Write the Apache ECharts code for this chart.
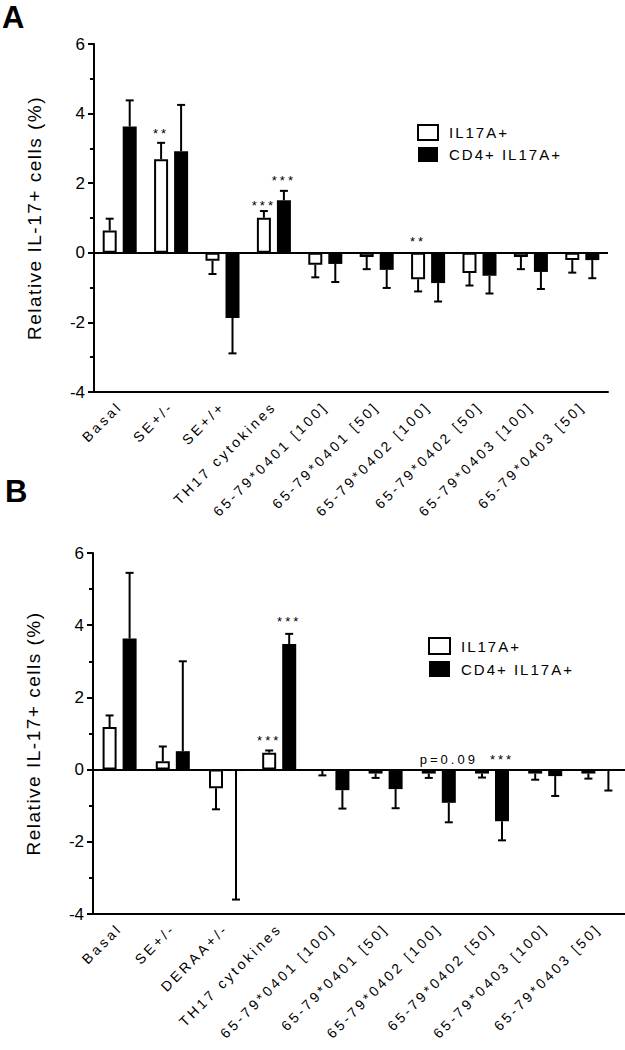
<!DOCTYPE html>
<html>
<head>
<meta charset="utf-8">
<script src="https://cdn.jsdelivr.net/npm/echarts@6/dist/echarts.min.js"></script>
<style>
  html, body { margin: 0; padding: 0; background: #fff; }
  #chart { width: 625px; height: 1050px; }
  #chart text[style*="13px"] { letter-spacing: 3px; }
  #chart text[style*="14px"] { letter-spacing: 3px; }
  #chart text[style*="15px"] { letter-spacing: 2px; }
  #chart text[style*="19px"] { letter-spacing: 1.5px; }
</style>
</head>
<body>
<div id="chart"></div>
<script>
// ---------- data ----------
const categoriesA = ['Basal', 'SE+/-', 'SE+/+', 'TH17 cytokines', '65-79*0401 [100]', '65-79*0401 [50]',
  '65-79*0402 [100]', '65-79*0402 [50]', '65-79*0403 [100]', '65-79*0403 [50]'];
const categoriesB = ['Basal', 'SE+/-', 'DERAA+/-', 'TH17 cytokines', '65-79*0401 [100]', '65-79*0401 [50]',
  '65-79*0402 [100]', '65-79*0402 [50]', '65-79*0403 [100]', '65-79*0403 [50]'];
const seriesNames = ['IL17A+', 'CD4+ IL17A+'];

const il17A_A = [0.64, 2.69, -0.23, 1.01, -0.345, -0.12, -0.76, -0.58, -0.12, -0.21];
const il17A_A_err = [0.34, 0.47, 0.38, 0.19, 0.36, 0.35, 0.35, 0.36, 0.35, 0.36];
const cd4_A = [3.63, 2.92, -1.87, 1.51, -0.32, -0.49, -0.87, -0.66, -0.55, -0.21];
const cd4_A_err = [0.75, 1.33, 1.02, 0.27, 0.52, 0.52, 0.53, 0.51, 0.49, 0.52];

const il17A_B = [1.18, 0.23, -0.52, 0.47, -0.02, -0.11, -0.11, -0.11, -0.11, -0.11];
const il17A_B_err = [0.32, 0.41, 0.58, 0.06, 0.14, 0.12, 0.12, 0.11, 0.17, 0.14];
const cd4_B = [3.63, 0.51, -0.04, 3.48, -0.57, -0.54, -0.92, -1.43, -0.18, -0.01];
const cd4_B_err = [1.82, 2.49, 3.56, 0.28, 0.51, 0.53, 0.54, 0.53, 0.55, 0.57];

// annotations: [category index, series index (0 = IL17A+, 1 = CD4+ IL17A+), y value, text]
const annotationsA = [[1, 0, 3.55, '**'], [3, 0, 1.46, '***'], [3, 1, 2.2, '***'], [6, 0, 0.44, '**']];
const annotationsB = [[3, 0, 0.93, '***'], [3, 1, 4.2, '***'], [6, 1, 0.4, 'p=0.09'], [7, 1, 0.4, '***']];

const yTicks = { min: -4, max: 6, interval: 2 };
const yTitle = 'Relative IL-17+ cells (%)';

// ---------- chart ----------
const FONT = '"Liberation Sans", Arial, sans-serif';
const BAR_OFFSET = 10; // half of (bar width + gap)

function errRender(offset) {
  return function (params, api) {
    const i = api.value(0), v = api.value(1), e = api.value(2);
    const sign = v >= 0 ? 1 : -1;
    const p0 = api.coord([i, v]);
    const p1 = api.coord([i, v + sign * e]);
    const x = p0[0] + offset;
    return {
      type: 'group',
      children: [
        { type: 'line', shape: { x1: x, y1: p0[1], x2: x, y2: p1[1] }, style: { stroke: '#000', lineWidth: 2 } },
        { type: 'line', shape: { x1: x - 4, y1: p1[1], x2: x + 4, y2: p1[1] }, style: { stroke: '#000', lineWidth: 2 } }
      ]
    };
  };
}

function annRender(list) {
  return function (params, api) {
    const a = list[params.dataIndex];
    const p = api.coord([a[0], a[2]]);
    const x = p[0] + (a[1] === 0 ? -BAR_OFFSET : BAR_OFFSET);
    return {
      type: 'text',
      x: x, y: p[1] + 4,
      style: { text: a[3], fill: '#000', font: '13px ' + FONT, align: 'center', verticalAlign: 'middle' }
    };
  };
}

function pairs(vals, errs) { return vals.map((v, i) => [i, v, errs[i]]); }

function panelSeries(g, white, whiteErr, black, blackErr, ann) {
  return [
    {
      name: seriesNames[0], type: 'bar', xAxisIndex: g, yAxisIndex: g, data: white,
      barWidth: 14, barGap: '43%', z: 3,
      itemStyle: { color: '#fff', borderColor: '#000', borderWidth: 2 },
      markLine: {
        silent: true, symbol: 'none', label: { show: false },
        lineStyle: { color: '#000', width: 2, type: 'solid' },
        data: [{ yAxis: 0 }]
      }
    },
    {
      name: seriesNames[1], type: 'bar', xAxisIndex: g, yAxisIndex: g, data: black,
      barWidth: 14, barGap: '43%', z: 3,
      itemStyle: { color: '#000', borderColor: '#000', borderWidth: 0 }
    },
    { type: 'custom', xAxisIndex: g, yAxisIndex: g, z: 2, data: pairs(white, whiteErr), renderItem: errRender(-BAR_OFFSET) },
    { type: 'custom', xAxisIndex: g, yAxisIndex: g, z: 2, data: pairs(black, blackErr), renderItem: errRender(BAR_OFFSET) },
    { type: 'custom', xAxisIndex: g, yAxisIndex: g, z: 1, data: ann.map(a => [a[0], a[2]]), renderItem: annRender(ann) }
  ];
}

function xAxis(g, cats) {
  return {
    type: 'category', gridIndex: g, data: cats,
    axisLine: { onZero: false, lineStyle: { color: '#000', width: 2 } },
    axisTick: { alignWithLabel: true, length: 6, lineStyle: { color: '#000', width: 2 } },
    axisLabel: { rotate: 45, interval: 0, fontSize: 14, fontFamily: FONT, color: '#000', margin: 12 },
    splitLine: { show: false }
  };
}

function yAxis(g) {
  return {
    type: 'value', gridIndex: g, min: yTicks.min, max: yTicks.max, interval: yTicks.interval,
    axisLine: { show: true, lineStyle: { color: '#000', width: 2 } },
    axisTick: { show: true, length: 6, lineStyle: { color: '#000', width: 2 } },
    minorTick: { show: true, splitNumber: 2, length: 4, lineStyle: { color: '#000', width: 2 } },
    splitLine: { show: false },
    axisLabel: { fontSize: 17, fontFamily: FONT, color: '#000', margin: 9 },
    name: yTitle, nameLocation: 'middle', nameGap: 50,
    nameTextStyle: { fontSize: 19, fontFamily: FONT, color: '#000' }
  };
}

function legend(left, top, w, h) {
  return {
    data: seriesNames.map(n => ({ name: n, icon: 'rect' })), orient: 'vertical', left: left, top: top,
    itemWidth: w, itemHeight: h, itemGap: 6, selectedMode: false,
    textStyle: { fontSize: 15, fontFamily: FONT, color: '#000', padding: [0, 0, 0, 6] }
  };
}

const chart = echarts.init(document.getElementById('chart'), null, { renderer: 'svg' });
chart.setOption({
  animation: false,
  backgroundColor: '#fff',
  textStyle: { fontFamily: FONT },
  grid: [
    { left: 94, top: 44, width: 514, height: 348 },
    { left: 93, top: 553, width: 534, height: 361 }
  ],
  xAxis: [xAxis(0, categoriesA), xAxis(1, categoriesB)],
  yAxis: [yAxis(0), yAxis(1)],
  legend: [legend(412, 119, 20, 15), legend(423, 632, 21, 16)],
  graphic: [
    { type: 'text', left: 2, top: 2, style: { text: 'A', font: 'bold 31px ' + FONT, fill: '#000' } },
    { type: 'text', left: 5, top: 476, style: { text: 'B', font: 'bold 31px ' + FONT, fill: '#000' } }
  ],
  series: [
    ...panelSeries(0, il17A_A, il17A_A_err, cd4_A, cd4_A_err, annotationsA),
    ...panelSeries(1, il17A_B, il17A_B_err, cd4_B, cd4_B_err, annotationsB)
  ]
});
</script>
</body>
</html>
